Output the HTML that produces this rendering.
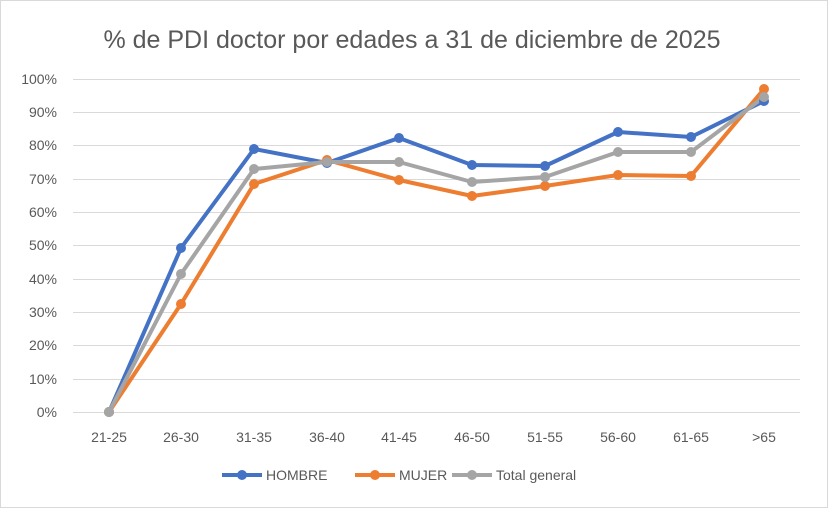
<!DOCTYPE html>
<html><head><meta charset="utf-8"><style>
body{margin:0;background:#fff;}
svg{display:block;font-family:"Liberation Sans",sans-serif;}
</style></head><body>
<svg width="828" height="508" viewBox="0 0 828 508">
<rect x="0.5" y="0.5" width="827" height="507" fill="#fff" stroke="#d9d9d9"/>
<text x="412" y="48" font-size="25" fill="#595959" text-anchor="middle">% de PDI doctor por edades a 31 de diciembre de 2025</text>
<g stroke="#d9d9d9" stroke-width="1">
<line x1="73" x2="800" y1="79.5" y2="79.5"/><line x1="73" x2="800" y1="112.5" y2="112.5"/>
<line x1="73" x2="800" y1="145.5" y2="145.5"/><line x1="73" x2="800" y1="179.5" y2="179.5"/>
<line x1="73" x2="800" y1="212.5" y2="212.5"/><line x1="73" x2="800" y1="245.5" y2="245.5"/>
<line x1="73" x2="800" y1="279.5" y2="279.5"/><line x1="73" x2="800" y1="312.5" y2="312.5"/>
<line x1="73" x2="800" y1="345.5" y2="345.5"/><line x1="73" x2="800" y1="379.5" y2="379.5"/>
<line x1="73" x2="800" y1="412.5" y2="412.5"/>
</g>
<g font-size="14" fill="#595959" text-anchor="end">
<text x="57" y="84">100%</text><text x="57" y="117">90%</text><text x="57" y="150">80%</text>
<text x="57" y="184">70%</text><text x="57" y="217">60%</text><text x="57" y="250">50%</text>
<text x="57" y="284">40%</text><text x="57" y="317">30%</text><text x="57" y="350">20%</text>
<text x="57" y="384">10%</text><text x="57" y="417">0%</text>
</g>
<g font-size="14" fill="#595959" text-anchor="middle">
<text x="109" y="442">21-25</text><text x="181" y="442">26-30</text><text x="254" y="442">31-35</text>
<text x="327" y="442">36-40</text><text x="399" y="442">41-45</text><text x="472" y="442">46-50</text>
<text x="545" y="442">51-55</text><text x="618" y="442">56-60</text><text x="691" y="442">61-65</text>
<text x="764" y="442">&gt;65</text>
</g>
<g fill="none" stroke-width="4" stroke-linejoin="round">
<polyline stroke="#4472c4" points="109,412 181,248 254,149 327,163 399,138 472,165 545,166 618,132 691,137 764,101"/>
<polyline stroke="#ed7d31" points="109,412 181,304 254,184 327,160 399,180 472,196 545,186 618,175 691,176 764,89"/>
<polyline stroke="#a5a5a5" points="109,412 181,274 254,169 327,162 399,162 472,182 545,177 618,152 691,152 764,97"/>
</g>
<g fill="#4472c4"><circle cx="109" cy="412" r="5"/><circle cx="181" cy="248" r="5"/><circle cx="254" cy="149" r="5"/><circle cx="327" cy="163" r="5"/><circle cx="399" cy="138" r="5"/><circle cx="472" cy="165" r="5"/><circle cx="545" cy="166" r="5"/><circle cx="618" cy="132" r="5"/><circle cx="691" cy="137" r="5"/><circle cx="764" cy="101" r="5"/></g>
<g fill="#ed7d31"><circle cx="109" cy="412" r="5"/><circle cx="181" cy="304" r="5"/><circle cx="254" cy="184" r="5"/><circle cx="327" cy="160" r="5"/><circle cx="399" cy="180" r="5"/><circle cx="472" cy="196" r="5"/><circle cx="545" cy="186" r="5"/><circle cx="618" cy="175" r="5"/><circle cx="691" cy="176" r="5"/><circle cx="764" cy="89" r="5"/></g>
<g fill="#a5a5a5"><circle cx="109" cy="412" r="5"/><circle cx="181" cy="274" r="5"/><circle cx="254" cy="169" r="5"/><circle cx="327" cy="162" r="5"/><circle cx="399" cy="162" r="5"/><circle cx="472" cy="182" r="5"/><circle cx="545" cy="177" r="5"/><circle cx="618" cy="152" r="5"/><circle cx="691" cy="152" r="5"/><circle cx="764" cy="97" r="5"/></g>
<g font-size="14" fill="#595959">
<line x1="222" x2="262" y1="475" y2="475" stroke="#4472c4" stroke-width="4"/><circle cx="242" cy="475" r="5" fill="#4472c4"/>
<text x="266" y="480">HOMBRE</text>
<line x1="355" x2="395" y1="475" y2="475" stroke="#ed7d31" stroke-width="4"/><circle cx="375" cy="475" r="5" fill="#ed7d31"/>
<text x="399" y="480">MUJER</text>
<line x1="452" x2="492" y1="475" y2="475" stroke="#a5a5a5" stroke-width="4"/><circle cx="472" cy="475" r="5" fill="#a5a5a5"/>
<text x="496" y="480">Total general</text>
</g>
</svg>
</body></html>
